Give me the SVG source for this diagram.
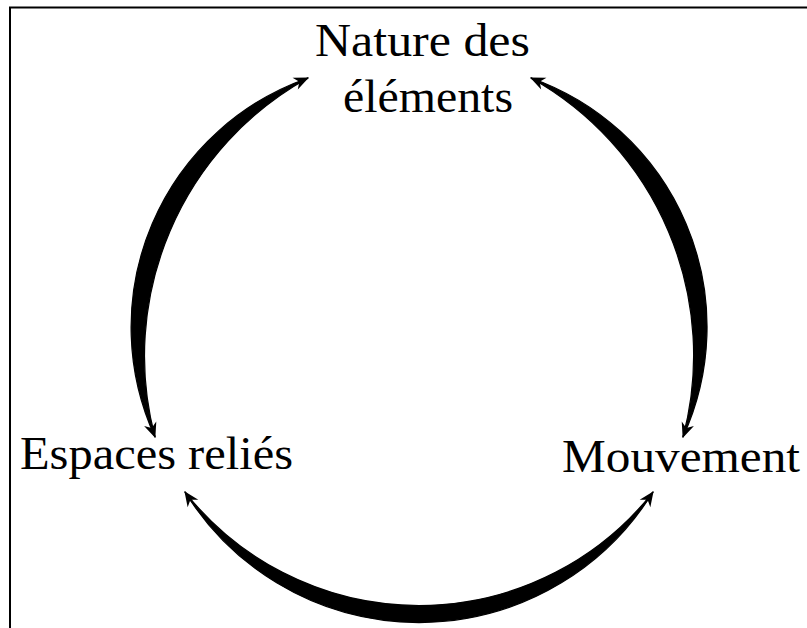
<svg xmlns="http://www.w3.org/2000/svg" width="807" height="628" viewBox="0 0 807 628">
<style>
.lbl{font-family:"Liberation Serif","DejaVu Serif",serif;font-size:46px;fill:#000}
.band{fill:#000;stroke:#000;stroke-width:1.2;stroke-linejoin:round}
.guide{fill:none;stroke:#000;stroke-width:1.5;marker-start:url(#ah);marker-end:url(#ah)}
</style>
<defs>
<marker id="ah" markerUnits="userSpaceOnUse" markerWidth="20" markerHeight="16" refX="0" refY="0" viewBox="-16 -8 18 16" orient="auto-start-reverse" overflow="visible">
<path d="M1,0 L-14,-6.5 L-9.5,0 L-14,6.5 Z" fill="#000"/>
</marker>
</defs>
<rect x="10" y="7.5" width="820" height="640" fill="none" stroke="#000" stroke-width="2"/>
<g id="node-nature"><text class="lbl" x="315" y="56" textLength="215" lengthAdjust="spacingAndGlyphs">Nature des</text><text class="lbl" x="343" y="112" textLength="170" lengthAdjust="spacingAndGlyphs">éléments</text></g>
<g id="node-espaces"><text class="lbl" x="20" y="469" textLength="273" lengthAdjust="spacingAndGlyphs">Espaces reliés</text></g>
<g id="node-mouvement"><text class="lbl" x="562" y="472" textLength="238" lengthAdjust="spacingAndGlyphs">Mouvement</text></g>
<g id="connectors">
<path class="band" d="M308 78 A264 264 0 0 0 155 437 A318 318 0 0 1 308 78 Z"/>
<path class="guide" d="M308 78 A285 285 0 0 0 155 437"/>
<path class="band" d="M531 78 A264 264 0 0 1 683 437 A318 318 0 0 0 531 78 Z"/>
<path class="guide" d="M531 78 A285 285 0 0 1 683 437"/>
<path class="band" d="M185 492 A275 275 0 0 0 653 492 A298 298 0 0 1 185 492 Z"/>
<path class="guide" d="M185 492 A285 285 0 0 0 653 492"/>
</g>
</svg>
